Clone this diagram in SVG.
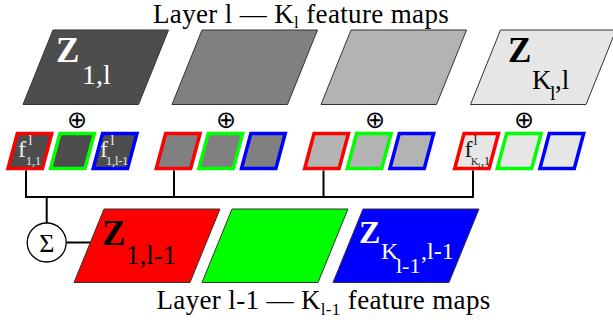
<svg xmlns="http://www.w3.org/2000/svg" xmlns:xlink="http://www.w3.org/1999/xlink" width="613" height="323" viewBox="0 0 613 323">
<style>
  text { font-family: "Liberation Serif", "Times New Roman", serif; }
  .title { font-size: 27px; letter-spacing: 0.35px; fill: #000; }
  .big { stroke: #333; stroke-width: 1; }
  .g1 { fill: #4d4d4d; }
  .g2 { fill: #808080; }
  .g3 { fill: #b3b3b3; }
  .g4 { fill: #e6e6e6; }
  .sr { stroke: #ff0000; stroke-width: 3.5; }
  .sg { stroke: #00ff00; stroke-width: 3.5; }
  .sb { stroke: #0000ff; stroke-width: 3.5; }
  .zb { font-weight: bold; }
  .op { font-family: "DejaVu Sans", sans-serif; font-size: 24px; text-anchor: middle; fill: #000; }
  .conn { fill: none; stroke: #000; stroke-width: 2; }
  .fl { font-size: 24px; fill: #eeeeee; }
  .fd { font-size: 24px; fill: #111111; }
</style>
<defs>
  <path id="sm" d="M9.35,0 H43.75 L34.4,35 H0 Z"/>
</defs>

<text class="title" x="153" y="22.5">Layer l — K<tspan font-size="17" dy="5">l</tspan><tspan dy="-5"> feature maps</tspan></text>

<g id="Z1l">
  <polygon class="big g1" points="53,30 168.5,30 138.5,104.5 23,104.5"/>
  <text fill="#fff"><tspan class="zb" x="56" y="62" font-size="35">Z</tspan><tspan x="82" y="84" font-size="28">1,l</tspan></text>
</g>
<g id="Z2l">
  <polygon class="big g2" points="202,30 317.5,30 287.5,104.5 172,104.5"/>
</g>
<g id="Z3l">
  <polygon class="big g3" points="351,30 466.5,30 436.5,104.5 321,104.5"/>
</g>
<g id="ZKl">
  <polygon class="big g4" points="500.5,30 616,30 586,104.5 470.5,104.5"/>
  <text fill="#000"><tspan class="zb" x="508" y="62" font-size="35">Z</tspan><tspan x="532" y="89" font-size="27">K</tspan><tspan x="550" y="100" font-size="20">l</tspan><tspan x="555" y="89" font-size="27">,l</tspan></text>
</g>

<g id="oplus1"><text class="op" x="77" y="128">⊕</text></g>
<g id="oplus2"><text class="op" x="226" y="128">⊕</text></g>
<g id="oplus3"><text class="op" x="375" y="128">⊕</text></g>
<g id="oplus4"><text class="op" x="524" y="128">⊕</text></g>

<g id="f11">
  <use xlink:href="#sm" href="#sm" class="g1 sr" x="8" y="133.5"/>
  <text class="fl"><tspan x="18" y="157">f</tspan><tspan x="28.5" y="145" font-size="14">l</tspan><tspan x="26" y="165" font-size="12">1,1</tspan></text>
</g>
<g id="f12"><use xlink:href="#sm" href="#sm" class="g1 sg" x="50.6" y="133.5"/></g>
<g id="f13">
  <use xlink:href="#sm" href="#sm" class="g1 sb" x="93.2" y="133.5"/>
  <text class="fl"><tspan x="100" y="157">f</tspan><tspan x="110.5" y="145" font-size="14">l</tspan><tspan x="106" y="165" font-size="12">1,l-1</tspan></text>
</g>

<g id="f21"><use xlink:href="#sm" href="#sm" class="g2 sr" x="156.3" y="133.5"/></g>
<g id="f22"><use xlink:href="#sm" href="#sm" class="g2 sg" x="198.9" y="133.5"/></g>
<g id="f23"><use xlink:href="#sm" href="#sm" class="g2 sb" x="241.5" y="133.5"/></g>

<g id="f31"><use xlink:href="#sm" href="#sm" class="g3 sr" x="304.7" y="133.5"/></g>
<g id="f32"><use xlink:href="#sm" href="#sm" class="g3 sg" x="347.3" y="133.5"/></g>
<g id="f33"><use xlink:href="#sm" href="#sm" class="g3 sb" x="389.9" y="133.5"/></g>

<g id="f41">
  <use xlink:href="#sm" href="#sm" class="g4 sr" x="454.7" y="133.5"/>
  <text class="fd"><tspan x="464.5" y="157">f</tspan><tspan x="473.5" y="145" font-size="14">l</tspan><tspan x="471" y="165" font-size="10">K</tspan><tspan x="478" y="169" font-size="8">l</tspan><tspan x="481" y="165" font-size="12">,1</tspan></text>
</g>
<g id="f42"><use xlink:href="#sm" href="#sm" class="g4 sg" x="497.3" y="133.5"/></g>
<g id="f43"><use xlink:href="#sm" href="#sm" class="g4 sb" x="539.9" y="133.5"/></g>

<g id="connectors">
  <path class="conn" d="M26,170.5 V197 H473 V170.5"/>
  <path class="conn" d="M174,170.5 V197"/>
  <path class="conn" d="M323.5,170.5 V197"/>
  <path class="conn" d="M46.7,197 V223"/>
  <path class="conn" d="M66.2,242.5 H90.5"/>
</g>

<g id="sum">
  <circle cx="46.7" cy="242.5" r="19.5" fill="#fff" stroke="#000" stroke-width="1.3"/>
  <text x="46.7" y="252" font-size="26" text-anchor="middle" fill="#000">Σ</text>
</g>

<g id="Z1l1">
  <polygon class="big" fill="#ff0000" points="104,209 220,209 190,282.5 74,282.5"/>
  <text fill="#000"><tspan class="zb" x="102" y="245" font-size="35">Z</tspan><tspan x="126" y="264" font-size="27">1,l-1</tspan></text>
</g>
<g id="Z2l1">
  <polygon class="big" fill="#00ff00" points="232,209 348,209 318,282.5 202,282.5"/>
</g>
<g id="ZKl1">
  <polygon class="big" fill="#0000ff" points="363,209 479,209 449,282.5 333,282.5"/>
  <text fill="#fff"><tspan class="zb" x="359" y="243" font-size="32">Z</tspan><tspan x="381" y="259" font-size="24">K</tspan><tspan x="396" y="273" font-size="22">l-1</tspan><tspan x="421" y="259" font-size="24">,l-1</tspan></text>
</g>

<text class="title" x="156.5" y="309">Layer l-1 — K<tspan font-size="17" dy="6">l-1</tspan><tspan dy="-6"> feature maps</tspan></text>
</svg>
